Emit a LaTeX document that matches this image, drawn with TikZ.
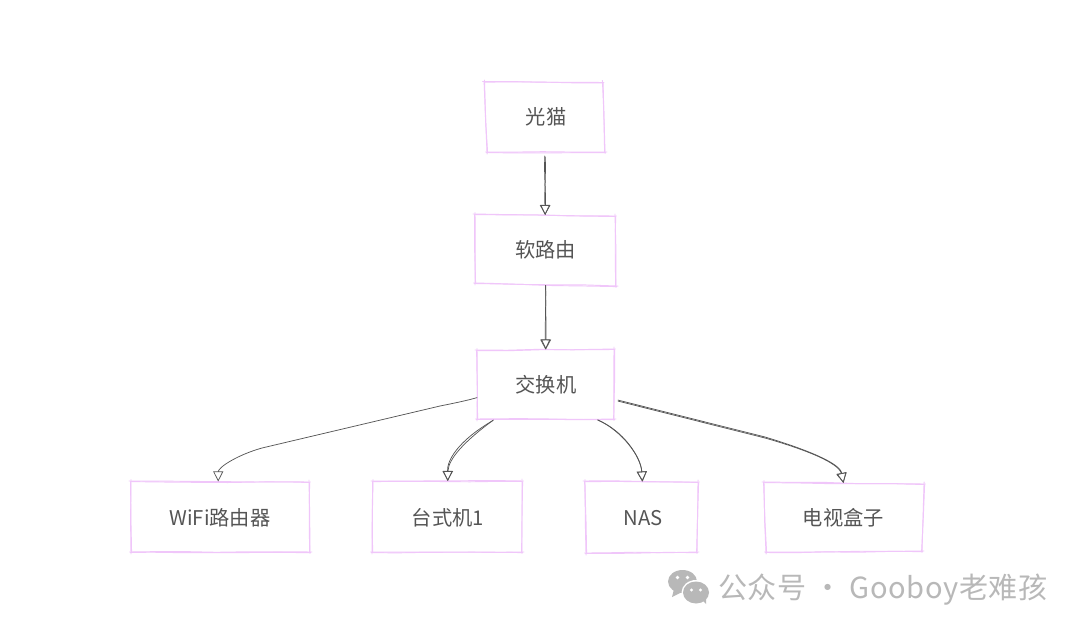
\documentclass[tikz,border=0pt]{standalone}
\usepackage{fontspec}
\setmainfont{Noto Sans CJK SC}
\newfontfamily\wmfont[LetterSpace=2]{Noto Sans CJK SC}
\usetikzlibrary{arrows.meta,decorations.pathmorphing,calc}
\definecolor{sketchpink}{HTML}{F0C6FA}
\definecolor{inkgray}{HTML}{555555}
\definecolor{wmgray}{HTML}{B8B8B8}
\tikzset{
  x=0.75pt,y=-0.75pt,
  boxlabel/.style={inner sep=0pt,font=\fontsize{15.2}{18}\selectfont,text=inkgray},
  wmlabel/.style={inner sep=0pt,anchor=west,font=\wmfont\fontsize{21.8}{26}\selectfont,text=wmgray},
  sketchline/.style={draw=sketchpink,line width=0.7pt,line cap=round,
    decorate,decoration={random steps,segment length=24pt,amplitude=0.35pt}},
  linktip/.style={draw=inkgray,line width=0.55pt,line cap=round,
    -{Triangle[open,length=7.5pt,width=7.5pt,line width=0.55pt]}},
  wmshape/.style={fill=wmgray,draw=none},
}
% name, centre, NW, NE, SE, SW, text
\newcommand{\sketchbox}[7]{%
  \node[boxlabel] (#1) at (#2) {#7};
  \coordinate (#1nw) at (#3);\coordinate (#1ne) at (#4);
  \coordinate (#1se) at (#5);\coordinate (#1sw) at (#6);
  \foreach \a/\b in {#1nw/#1ne,#1ne/#1se,#1se/#1sw,#1sw/#1nw}{
    \path[sketchline] ($(\a)!-1.5pt!(\b)$) -- ($(\b)!-1pt!(\a)$);
    \path[sketchline] ($(\a)+(0.6,0.6)$) -- ($(\b)+(-0.4,0.5)$);
  }
}
\begin{document}
\begin{tikzpicture}
\pgfmathsetseed{7}
\path[use as bounding box,fill=white] (0,0) rectangle (1080,631);

\sketchbox{modem}{546,117}{484.5,81.5}{602.5,82.5}{605,152}{487,152}{光猫}
\sketchbox{router}{545.5,250}{475,214}{615,216}{616,286}{475,283}{软路由}
\sketchbox{switch}{546,385}{477,350}{614,349}{614,419}{477,419}{交换机}
\sketchbox{wifi}{220,518}{131,481}{309,482}{310,552}{131,552}{WiFi路由器}
\sketchbox{pc}{448,518}{373,481}{522,481}{522,552}{372,552}{台式机1}
\sketchbox{nas}{643.5,518}{585,481}{698,482}{697,552}{586,553}{NAS}
\sketchbox{tv}{843.5,518}{764,482}{924,484}{922,551}{766,552}{电视盒子}

% modem -> router
\draw[linktip] ($(modemsw)!0.49!(modemse)+(0,4)$) .. controls +(-1,20) and +(1,-25) .. ($(routernw)!0.5!(routerne)$);
\draw[linktip] ($(modemsw)!0.49!(modemse)+(0.4,5)$) .. controls +(0.8,18) and +(-1,-24) .. ($(routernw)!0.5!(routerne)+(0.3,0)$);
% router -> switch
\draw[linktip] ($(routersw)!0.5!(routerse)+(0,1)$) .. controls +(0.6,20) and +(-0.5,-30) .. ($(switchnw)!0.5!(switchne)$);
\draw[linktip] ($(routersw)!0.5!(routerse)+(0.3,1)$) .. controls +(-0.6,20) and +(0.4,-30) .. ($(switchnw)!0.5!(switchne)+(0.4,0)$);
% switch -> wifi
\draw[linktip] ($(switchnw)!0.69!(switchsw)$) .. controls +(-10,3) and +(10,-2) .. (440,406)
   -- (262,448) .. controls +(-25,7) and +(0,-14) .. ($(wifinw)!0.49!(wifine)$);
% switch -> pc
\draw[linktip] ($(switchsw)!0.12!(switchse)+(0,1)$) .. controls +(-30,22) and +(1,-22) .. ($(pcnw)!0.5!(pcne)$);
\draw[linktip] ($(switchsw)!0.12!(switchse)+(-0.5,1.5)$) .. controls +(-36,21) and +(-1,-20) .. ($(pcnw)!0.5!(pcne)+(0.5,0)$);
% switch -> nas
\draw[linktip] ($(switchsw)!0.88!(switchse)+(0,1)$) .. controls +(25,10) and +(-2,-25) .. ($(nasnw)!0.51!(nasne)$);
\draw[linktip] ($(switchsw)!0.88!(switchse)+(0.4,1)$) .. controls +(24,11) and +(-1,-25) .. ($(nasnw)!0.51!(nasne)+(-0.5,0)$);
% switch -> tv
\draw[linktip] ($(switchne)!0.73!(switchse)+(4,0)$) -- (765,437) .. controls +(40,12) and +(-3,-20) .. ($(tvnw)!0.495!(tvne)$);
\draw[linktip] ($(switchne)!0.73!(switchse)+(4,1)$) -- (765,438) .. controls +(42,12) and +(-5,-20) .. ($(tvnw)!0.495!(tvne)+(0.5,0)$);

% watermark
\fill[wmshape] (682.5,581.5) ellipse [x radius=14.5,y radius=11.5];
\fill[wmshape] (674,589) -- (672,597) -- (682,592) -- cycle;
\fill[white] (696,592.5) ellipse [x radius=14.5,y radius=12.5];
\fill[wmshape] (696,592.5) ellipse [x radius=13,y radius=11];
\fill[wmshape] (702,600) -- (706,604) -- (706,597) -- cycle;
\fill[white] (677.5,577.5) circle (1.9) (687.5,577.5) circle (1.9) (691.5,590) circle (1.7) (700.5,590) circle (1.7);
\node[wmlabel] (wm) at (718,589.5) {公众号 · Gooboy老难孩};
\end{tikzpicture}
\end{document}
